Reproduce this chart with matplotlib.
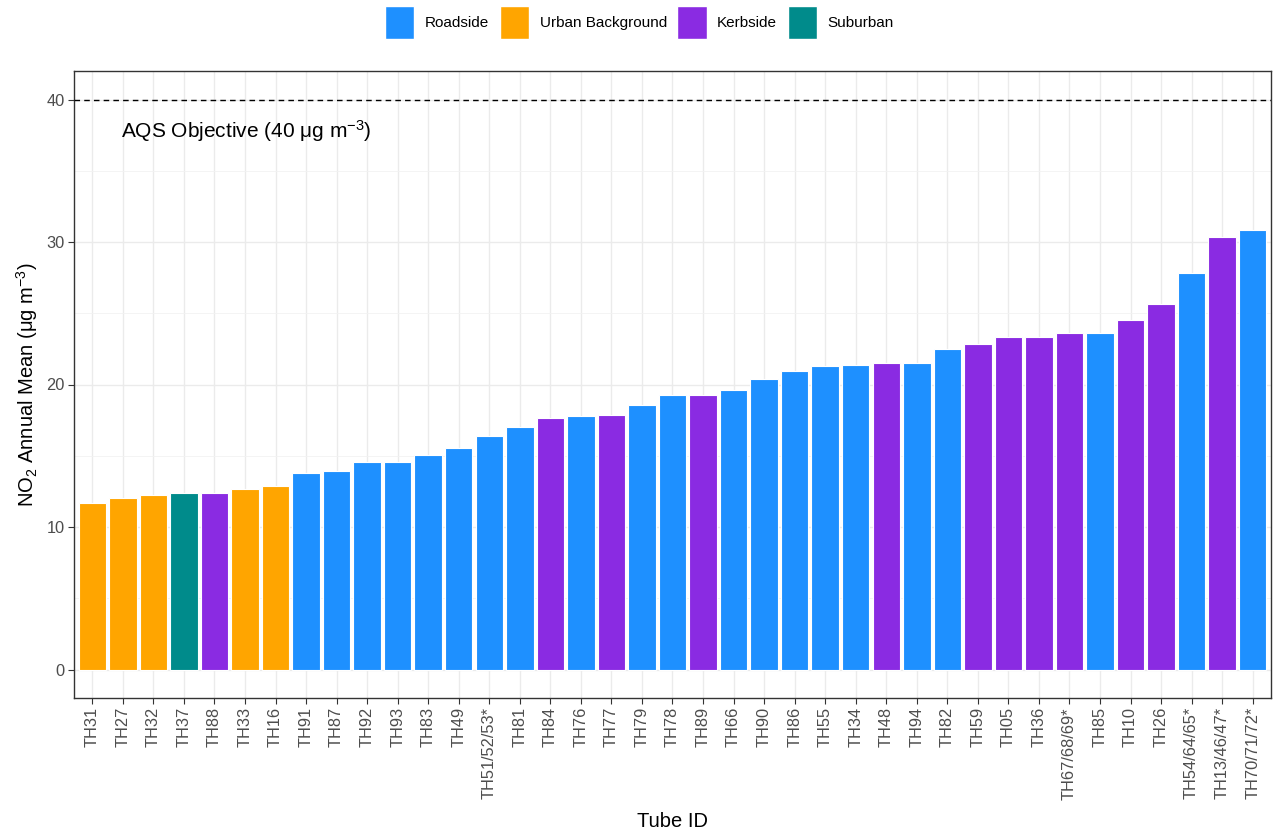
import matplotlib
matplotlib.use("Agg")
import matplotlib.pyplot as plt
from matplotlib.patches import Patch
from matplotlib.ticker import MultipleLocator

plt.rcParams["font.family"] = ["Liberation Sans", "DejaVu Sans"]
plt.rcParams["mathtext.fontset"] = "custom"
plt.rcParams["mathtext.rm"] = "Liberation Sans"
plt.rcParams["mathtext.it"] = "Liberation Sans:italic"
plt.rcParams["mathtext.default"] = "regular"

# data
tubes = ["TH31", "TH27", "TH32", "TH37", "TH88", "TH33", "TH16", "TH91", "TH87", "TH92",
         "TH93", "TH83", "TH49", "TH51/52/53*", "TH81", "TH84", "TH76", "TH77", "TH79", "TH78",
         "TH89", "TH66", "TH90", "TH86", "TH55", "TH34", "TH48", "TH94", "TH82", "TH59",
         "TH05", "TH36", "TH67/68/69*", "TH85", "TH10", "TH26", "TH54/64/65*", "TH13/46/47*", "TH70/71/72*"]
no2 = [11.67, 12.06, 12.25, 12.37, 12.37, 12.65, 12.86, 13.77, 13.96, 14.57,
       14.57, 15.08, 15.57, 16.37, 17.05, 17.68, 17.78, 17.87, 18.57, 19.28,
       19.28, 19.58, 20.38, 20.98, 21.29, 21.38, 21.5, 21.5, 22.49, 22.81,
       23.33, 23.33, 23.61, 23.61, 24.53, 25.62, 27.83, 30.33, 30.85]
site_type = ["UB", "UB", "UB", "SU", "K", "UB", "UB", "R", "R", "R",
             "R", "R", "R", "R", "R", "K", "R", "K", "R", "R",
             "K", "R", "R", "R", "R", "R", "K", "R", "R", "K",
             "K", "K", "K", "R", "K", "K", "R", "K", "R"]

type_names = {"R": "Roadside", "UB": "Urban Background", "K": "Kerbside", "SU": "Suburban"}
type_colors = {"R": "#1E90FF", "UB": "#FFA500", "K": "#8A2BE2", "SU": "#008B8B"}
objective = 40

fig = plt.figure(figsize=(12.79, 8.36), dpi=100)
ax = fig.add_axes([74 / 1279, 1 - 698 / 836, (1271 - 74) / 1279, (698 - 71) / 836])

x = list(range(len(tubes)))
ax.bar(x, no2, width=0.9, color=[type_colors[t] for t in site_type],
       edgecolor="white", linewidth=0.8, zorder=3)
ax.axhline(objective, color="black", linestyle=(0, (4, 3)), linewidth=1.0, zorder=4)
ax.text(0.95, 37.8, r"AQS Objective (40 $\mu$g m$^{-3}$)", ha="left", va="center",
        fontsize=15, color="black", zorder=5)

ax.set_xlim(-0.6, len(tubes) - 0.4)
ax.set_ylim(-2, 42)
ax.set_xticks(x)
ax.set_xticklabels(tubes, rotation=90, fontsize=11.8, color="#4D4D4D")
ax.yaxis.set_major_locator(MultipleLocator(10))
ax.yaxis.set_minor_locator(MultipleLocator(5))
ax.tick_params(axis="y", labelsize=11.8, labelcolor="#4D4D4D")
ax.tick_params(which="major", color="#333333", length=4, pad=2.5)
ax.tick_params(which="minor", length=0)
ax.grid(True, which="major", color="#EBEBEB", linewidth=1.0, zorder=0)
ax.grid(True, which="minor", axis="y", color="#F2F2F2", linewidth=0.6, zorder=0)
ax.set_axisbelow(True)
for s in ax.spines.values():
    s.set_color("#333333")
    s.set_linewidth(1.0)

ax.set_xlabel("Tube ID", fontsize=14.5, labelpad=9)
ax.set_ylabel(r"NO$_2$ Annual Mean ($\mu$g m$^{-3}$)", fontsize=14.5, labelpad=5)

handles = [Patch(facecolor=type_colors[k], edgecolor="white", label=type_names[k])
           for k in ["R", "UB", "K", "SU"]]
fig.legend(handles=handles, loc="upper center", bbox_to_anchor=(0.5, 1.009), ncol=4,
           frameon=False, fontsize=11, handlelength=1.9, handleheight=2.9,
           handletextpad=0.7, columnspacing=0.7)

fig.savefig("out.png", dpi=100)
